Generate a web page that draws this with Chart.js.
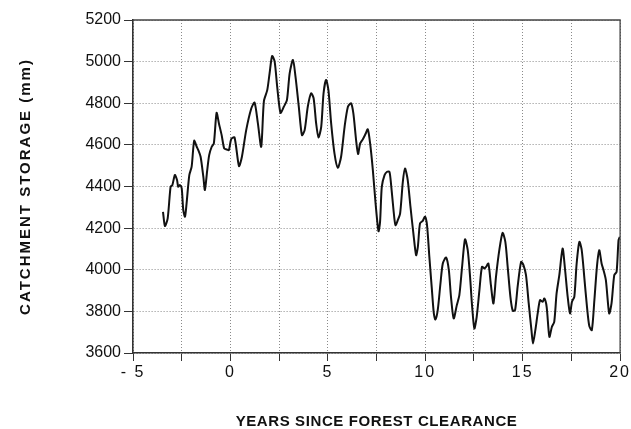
<!DOCTYPE html>
<html>
<head>
<meta charset="utf-8">
<script src="https://cdn.jsdelivr.net/npm/chart.js@4/dist/chart.umd.min.js"></script>
<style>
  html, body { margin: 0; padding: 0; background: #fff; }
  #wrap { width: 631px; height: 429px; }
</style>
</head>
<body>
<div id="wrap"><canvas id="c" width="631" height="429"></canvas></div>
<script>
// ---- data ----
const years = [
  -3.46,-3.36,-3.22,-3.07,-2.98,-2.85,-2.74,-2.68,-2.59,-2.50,-2.42,-2.33,-2.25,-2.11,-1.99,-1.86,-1.73,-1.65,-1.53,-1.39,-1.31,-1.19,-1.09,-0.96,-0.85,-0.71,-0.59,-0.45,-0.32,-0.20,-0.08,
  0.04,0.21,0.44,0.59,0.81,1.07,1.24,1.41,1.58,1.72,1.89,2.01,2.14,2.27,2.40,2.57,2.74,2.90,3.04,3.21,3.34,3.51,3.67,3.81,3.97,4.14,4.27,4.40,4.52,4.66,4.78,4.91,
  5.03,5.17,5.34,5.51,5.68,5.86,6.03,6.19,6.31,6.45,6.55,6.66,6.79,6.93,7.05,7.17,7.31,7.45,7.60,7.68,7.77,7.91,8.04,8.16,8.24,8.37,8.47,8.59,8.71,8.85,8.96,9.10,9.24,9.39,9.53,9.62,9.73,9.87,9.99,
  10.09,10.21,10.33,10.44,10.52,10.64,10.78,10.90,11.07,11.21,11.32,11.46,11.62,11.75,11.89,12.04,12.18,12.30,12.40,12.52,12.64,12.78,12.91,13.04,13.12,13.24,13.37,13.50,13.63,13.80,13.97,14.11,14.23,14.37,14.49,14.61,14.74,14.92,
  15.04,15.17,15.31,15.45,15.53,15.65,15.77,15.89,16.03,16.11,16.23,16.37,16.50,16.62,16.74,16.88,17.05,17.17,17.31,17.43,17.53,17.65,17.77,17.91,18.03,18.16,18.30,18.42,18.55,18.68,18.81,18.93,19.05,19.15,19.27,19.44,19.56,19.70,19.82,19.92,19.99
];
const storage = [
  4278,4210,4247,4399,4407,4455,4431,4399,4407,4391,4287,4255,4319,4455,4495,4620,4591,4575,4543,4447,4383,4479,4551,4591,4607,4754,4703,4647,4583,4578,4575,
  4628,4636,4498,4543,4671,4775,4803,4703,4591,4811,4863,4944,5027,5000,4880,4754,4783,4815,4944,5008,4928,4783,4647,4671,4783,4848,4824,4703,4636,4687,4848,4912,
  4863,4703,4559,4490,4543,4687,4783,4800,4751,4623,4556,4607,4626,4652,4675,4607,4479,4319,4185,4230,4399,4455,4471,4471,4415,4287,4214,4238,4271,4423,4487,4431,4303,4175,4070,4110,4223,4235,4255,
  4214,4062,3918,3790,3761,3806,3934,4030,4059,3998,3870,3766,3830,3878,4014,4146,4094,3966,3830,3718,3774,3902,4014,4006,4014,4030,3926,3838,3966,4094,4177,4134,4014,3870,3803,3806,3918,4038,
  4022,3974,3838,3710,3646,3710,3790,3854,3846,3862,3822,3678,3726,3750,3886,3974,4102,4006,3870,3790,3846,3870,4030,4134,4094,3966,3822,3729,3710,3854,4014,4094,4030,3998,3950,3790,3838,3974,3990,4142,4158
];
const xMin = -5, xMax = 20, xStep = 2.5, xLabelEvery = 5;
const yMin = 3600, yMax = 5200, yStep = 200;
const xTitle = 'YEARS SINCE FOREST CLEARANCE';
const yTitle = 'CATCHMENT STORAGE (mm)';

const points = years.map((t, i) => ({ x: t, y: storage[i] }));

// letter spacing for axis titles / tick labels
const spacing = { x: { title: '0.6px', labels: '2px' }, y: { title: '2px', labels: '0px' } };
const proto = Chart.Scale.prototype;
const origTitle = proto.drawTitle, origLabels = proto.drawLabels;
proto.drawTitle = function () {
  const s = spacing[this.id];
  this.ctx.save();
  if (s) this.ctx.letterSpacing = s.title;
  origTitle.apply(this, arguments);
  this.ctx.restore();
};
proto.drawLabels = function () {
  const s = spacing[this.id];
  this.ctx.save();
  if (s) this.ctx.letterSpacing = s.labels;
  origLabels.apply(this, arguments);
  this.ctx.restore();
};

const framePlugin = {
  id: 'frame',
  afterDraw(chart) {
    const { ctx, chartArea: a } = chart;
    ctx.save();
    ctx.strokeStyle = '#444';
    ctx.lineWidth = 1.3;
    ctx.beginPath();
    ctx.moveTo(a.left, a.top);
    ctx.lineTo(a.right, a.top);
    ctx.lineTo(a.right, a.bottom);
    ctx.stroke();
    ctx.restore();
  }
};

const FONT = "'Liberation Sans', Arial, Helvetica, sans-serif";
const gridColor = '#8a8a8a';

new Chart(document.getElementById('c'), {
  type: 'line',
  data: {
    datasets: [{
      data: points,
      borderColor: '#111',
      borderWidth: 2,
      pointRadius: 0,
      tension: 0.25,
      fill: false
    }]
  },
  options: {
    responsive: false,
    animation: false,
    events: [],
    layout: { padding: { left: 0, right: 10.5, top: 20, bottom: 0 } },
    plugins: { legend: { display: false }, tooltip: { enabled: false } },
    scales: {
      x: {
        type: 'linear',
        min: xMin, max: xMax,
        afterFit(s) { s.height = 76; },
        ticks: {
          stepSize: xStep,
          autoSkip: false,
          maxRotation: 0,
          padding: 2,
          color: '#111',
          font: { family: FONT, size: 16 },
          callback(v) {
            if (Math.abs(v % xLabelEvery) > 1e-9) return '';
            return v < 0 ? '- ' + Math.abs(v) : String(v);
          }
        },
        grid: { color: gridColor, lineWidth: 1, tickLength: 8, tickColor: '#333', drawTicks: true },
        border: { display: true, color: '#333', width: 1.6, dash: [1, 2] },
        title: {
          display: true, text: xTitle, color: '#111',
          font: { family: FONT, size: 15, weight: 'bold', lineHeight: 1 },
          padding: { top: 0, bottom: 0 }
        }
      },
      y: {
        type: 'linear',
        min: yMin, max: yMax,
        afterFit(s) { s.width = 133; },
        ticks: {
          stepSize: yStep,
          padding: 3,
          color: '#111',
          font: { family: FONT, size: 16 },
          callback(v) { return String(v); }
        },
        grid: { color: gridColor, lineWidth: 1, tickLength: 9, tickColor: '#333', drawTicks: true },
        border: { display: true, color: '#333', width: 1.6, dash: [1, 2] },
        title: {
          display: true, text: yTitle, color: '#111',
          font: { family: FONT, size: 15, weight: 'bold', lineHeight: 1 },
          padding: { top: 18.5, bottom: 0 }
        }
      }
    }
  },
  plugins: [framePlugin]
});
</script>
</body>
</html>
